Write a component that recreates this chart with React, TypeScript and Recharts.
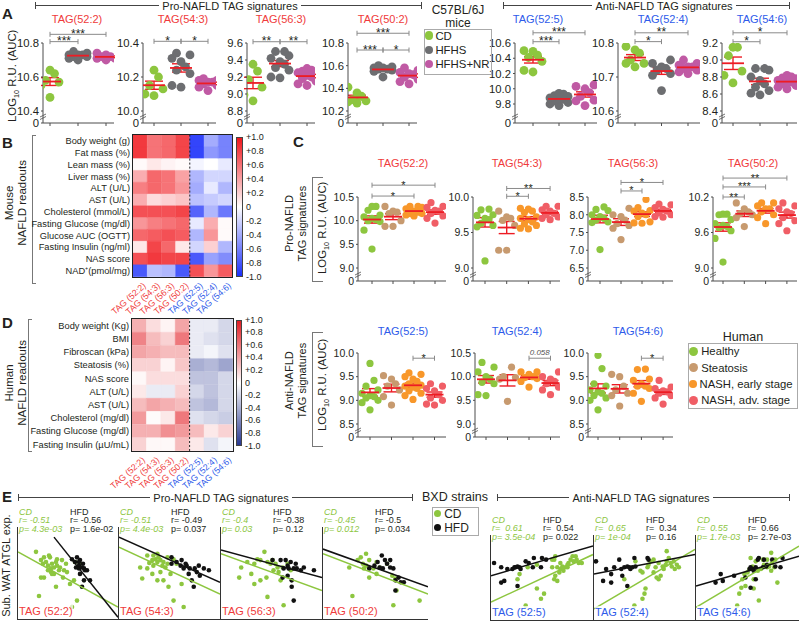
import React from "react";
import {
  ScatterChart,
  Scatter,
  XAxis,
  YAxis,
  ErrorBar,
  ReferenceLine,
  BarChart,
  Bar,
  Cell,
} from "recharts";

const FONT = "'Liberation Sans', Arial, Helvetica, sans-serif";
const INK = "#231f20";
const AXIS = "#4d4d4d";
const MEAN_RED = "#ed1c24";
const TAG_RED = "#ef3b3b";
const TAG_BLUE = "#2e5bea";
const GREEN = "#8dc63f";

// ---------- panel A: mouse liver TAGs ----------
const mouseGroups = ["CD", "HFHS", "HFHS+NR"];
const mouseColors = [GREEN, "#6d6e71", "#c05aa4"];
const proTags = ["TAG(52:2)", "TAG(54:3)", "TAG(56:3)", "TAG(50:2)"];
const antiTags = ["TAG(52:5)", "TAG(52:4)", "TAG(54:6)"];

const mTag522 = [
  [10.64, 10.62, 10.58, 10.57, 10.55, 10.48],
  [10.75, 10.74, 10.73, 10.73, 10.72, 10.72, 10.71, 10.7, 10.73],
  [10.74, 10.73, 10.72, 10.71, 10.7, 10.72, 10.71],
];
const mTag543 = [
  [10.24, 10.2, 10.15, 10.13, 10.1, 10.09],
  [10.34, 10.33, 10.31, 10.29, 10.26, 10.24, 10.22, 10.14, 10.15],
  [10.19, 10.18, 10.17, 10.16, 10.15, 10.14, 10.12, 10.18, 10.17],
];
const mTag563 = [
  [9.35, 9.27, 9.17, 9.08, 8.99, 8.92],
  [9.5, 9.5, 9.45, 9.42, 9.38, 9.35, 9.31, 9.28, 9.2, 9.19],
  [9.3, 9.28, 9.27, 9.25, 9.25, 9.22, 9.2, 9.18, 9.15, 9.12, 9.1],
];
const mTag502 = [
  [10.41, 10.36, 10.33, 10.3, 10.29, 10.28, 10.27],
  [10.6, 10.59, 10.58, 10.58, 10.57, 10.57, 10.56, 10.55, 10.5],
  [10.58, 10.56, 10.54, 10.53, 10.52, 10.5, 10.48, 10.46, 10.44],
];
const mTag525 = [
  [10.5, 10.49, 10.44, 10.41, 10.36, 10.24, 10.22],
  [9.94, 9.93, 9.91, 9.9, 9.88, 9.87, 9.86, 9.84, 9.82, 9.8, 9.78],
  [10.05, 10.03, 10.0, 9.95, 9.9, 9.85, 9.84, 9.78],
];
const mTag524 = [
  [10.79, 10.78, 10.77, 10.75, 10.74, 10.74, 10.73],
  [10.75, 10.74, 10.73, 10.725, 10.72, 10.71, 10.705, 10.66],
  [10.75, 10.74, 10.735, 10.73, 10.73, 10.725, 10.72, 10.715, 10.71],
];
const mTag546 = [
  [9.15, 9.15, 9.05, 8.87, 8.82, 8.73],
  [8.9, 8.9, 8.88, 8.8, 8.76, 8.72, 8.68, 8.64, 8.61, 8.59],
  [8.82, 8.8, 8.79, 8.78, 8.76, 8.75, 8.74, 8.72, 8.7, 8.68, 8.66],
];

const mTicks522 = [10.4, 10.6, 10.8];
const mTicks543 = [10.0, 10.2, 10.4];
const mTicks563 = [8.8, 9.0, 9.2, 9.4, 9.6];
const mTicks502 = [10.2, 10.4, 10.6, 10.8];
const mTicks525 = [9.8, 10.0, 10.2, 10.4, 10.6];
const mTicks524 = [10.6, 10.7, 10.8];
const mTicks546 = [8.4, 8.6, 8.8, 9.0, 9.2];

// [from group, to group, height, label]
const mSig522 = [[1, 2, 10.808, "***"], [1, 3, 10.851, "***"]];
const mSig543 = [[1, 2, 10.41, "*"], [2, 3, 10.41, "*"]];
const mSig563 = [[1, 2, 9.615, "**"], [2, 3, 9.615, "**"]];
const mSig502 = [[1, 2, 10.738, "***"], [2, 3, 10.738, "*"], [1, 3, 10.886, "***"]];
const mSig525 = [[1, 2, 10.617, "***"], [1, 3, 10.734, "***"]];
const mSig524 = [[1, 2, 10.804, "*"], [1, 3, 10.83, "**"]];
const mSig546 = [[1, 2, 9.215, "*"], [1, 3, 9.32, "*"]];

// ---------- panel C: human liver TAGs ----------
const humanGroups = ["Healthy", "Steatosis", "NASH, early stage", "NASH, adv. stage"];
const humanColors = [GREEN, "#c79a6f", "#f8972a", "#f05e66"];

const hTag522 = [
  [10.3, 10.3, 10.22, 10.12, 10.08, 10.05, 10.02, 10.0, 9.98, 9.8, 9.4],
  [10.3, 10.2, 10.18, 10.15, 10.0, 9.88, 9.88],
  [10.3, 10.3, 10.28, 10.25, 10.2, 10.18, 10.15, 10.15, 10.12, 10.1],
  [10.38, 10.3, 10.28, 10.22, 10.2, 10.15, 10.1, 10.05, 9.95],
];
const hTag543 = [
  [9.83, 9.82, 9.75, 9.74, 9.7, 9.68, 9.63, 9.6, 9.58, 9.1],
  [9.8, 9.72, 9.7, 9.67, 9.6, 9.25, 9.25],
  [9.84, 9.83, 9.8, 9.78, 9.72, 9.7, 9.68, 9.65, 9.62, 9.6, 9.56, 9.55],
  [9.87, 9.87, 9.82, 9.8, 9.77, 9.75, 9.72, 9.7, 9.68],
];
const hTag563 = [
  [8.22, 8.15, 8.12, 8.0, 7.95, 7.9, 7.85, 7.8, 7.78, 7.02],
  [8.18, 8.0, 7.95, 7.85, 7.75, 7.7, 7.62, 7.3],
  [8.43, 8.2, 8.12, 8.1, 8.05, 8.0, 7.95, 7.8, 7.77, 7.76],
  [8.3, 8.28, 8.2, 8.15, 8.1, 8.05, 8.0, 7.95, 7.93],
];
const hTag502 = [
  [9.91, 9.91, 9.9, 9.82, 9.75, 9.72, 9.7, 9.68, 9.63, 9.5, 9.1],
  [10.1, 10.0, 9.95, 9.92, 9.9, 9.85, 9.7],
  [10.1, 10.1, 10.05, 10.0, 10.0, 9.95, 9.9, 9.85, 9.75],
  [10.1, 10.05, 10.0, 9.95, 9.92, 9.85, 9.8, 9.75, 9.63],
];
const hTag525 = [
  [9.78, 9.42, 9.3, 9.22, 9.15, 9.1, 9.08, 9.05, 9.0, 8.95, 8.8],
  [9.52, 9.45, 9.35, 9.3, 9.22, 9.08, 8.9],
  [9.58, 9.55, 9.5, 9.45, 9.4, 9.35, 9.32, 9.3, 9.28, 9.25, 9.2, 9.15, 9.1, 9.02],
  [9.35, 9.3, 9.25, 9.2, 9.12, 9.05, 9.0, 8.92, 8.9],
];
const hTag524 = [
  [10.3, 10.2, 10.1, 10.0, 9.95, 9.88, 9.85, 9.62, 9.6],
  [10.2, 10.0, 9.98, 9.95, 9.48],
  [10.1, 10.1, 10.05, 10.0, 9.98, 9.96, 9.9, 9.78],
  [10.1, 10.0, 9.95, 9.9, 9.85, 9.78, 9.72, 9.62],
];
const hTag546 = [
  [9.95, 9.67, 9.35, 9.3, 9.22, 9.18, 9.15, 9.1, 9.05, 9.0, 8.8],
  [9.55, 9.5, 9.3, 9.22, 9.15, 9.1, 8.88],
  [9.66, 9.65, 9.45, 9.42, 9.35, 9.3, 9.3, 9.25, 9.15, 8.98],
  [9.42, 9.28, 9.25, 9.2, 9.18, 9.15, 9.1, 9.05, 8.92],
];

const hTicks522 = [9.0, 9.5, 10.0, 10.5];
const hTicks543 = [9.0, 9.5, 10.0];
const hTicks563 = [6.5, 7.0, 7.5, 8.0, 8.5];
const hTicks502 = [9.0, 9.6, 10.2];
const hTicks525 = [8.5, 9.0, 9.5, 10.0];
const hTicks524 = [9.0, 9.5, 10.0, 10.5];
const hTicks546 = [8.5, 9.0, 9.5, 10.0];

const hSig522 = [[1, 3, 10.52, "*"], [1, 4, 10.75, "*"]];
const hSig543 = [[2, 3, 10.01, "*"], [2, 4, 10.12, "**"]];
const hSig563 = [[2, 3, 8.67, "*"], [2, 4, 8.91, "*"]];
const hSig502 = [[1, 2, 10.2, "**"], [1, 3, 10.37, "***"], [1, 4, 10.52, "**"]];
const hSig525 = [[3, 4, 9.89, "*"]];
const hSig524 = [[3, 4, 10.39, "0.058"]];
const hSig546 = [[3, 4, 9.89, "*"]];

// ---------- heatmaps B / D ----------
const heatCols = ["TAG (52:2)", "TAG (54:3)", "TAG (56:3)", "TAG (50:2)", "TAG (52:5)", "TAG (52:4)", "TAG (54:6)"];
const mouseReadouts = [
  "Body weight (g)", "Fat mass (%)", "Lean mass (%)", "Liver mass (%)", "ALT (U/L)", "AST (U/L)",
  "Cholesterol (mmol/L)", "Fasting Glucose (mg/dl)", "Glucose AUC (OGTT)", "Fasting Insulin (ng/ml)",
  "NAS score", "NAD\u207A(pmol/mg)",
];
const mouseCorr = [
  [0.85, 0.6, 0.65, 0.8, -0.9, -0.4, -0.6],
  [0.85, 0.6, 0.65, 0.8, -0.9, -0.5, -0.6],
  [0.02, 0.1, 0.05, 0.02, -0.05, 0.0, -0.1],
  [0.35, 0.65, 0.6, 0.4, -0.35, -0.2, -0.2],
  [0.55, 0.65, 0.6, 0.45, -0.4, -0.1, -0.35],
  [0.35, 0.15, 0.2, 0.25, -0.3, -0.25, -0.2],
  [0.75, 0.75, 0.75, 0.8, -0.75, -0.35, -0.65],
  [0.45, 0.55, 0.6, 0.65, -0.1, 0.35, 0.02],
  [0.65, 0.7, 0.75, 0.7, -0.35, 0.45, 0.02],
  [0.1, 0.8, 0.65, 0.1, -0.2, 0.2, -0.35],
  [0.75, 0.85, 0.8, 0.8, -0.8, -0.45, -0.55],
  [-0.8, -0.3, -0.35, -0.8, 0.75, 0.45, 0.7],
];
const humanReadouts = [
  "Body weight (Kg)", "BMI", "Fibroscan (kPa)", "Steatosis (%)", "NAS score", "ALT (U/L)", "AST (U/L)",
  "Cholesterol (mg/dl)", "Fasting Glucose (mg/dl)", "Fasting Insulin (\u00B5U/mL)",
];
const humanCorr = [
  [0.35, 0.15, 0.05, 0.4, -0.1, -0.1, -0.2],
  [0.55, 0.3, 0.2, 0.6, -0.1, -0.15, -0.2],
  [0.4, 0.35, 0.3, 0.3, -0.1, -0.05, -0.15],
  [0.2, 0.2, 0.05, 0.25, -0.4, -0.35, -0.45],
  [0.03, 0.15, 0.15, 0.15, -0.3, -0.3, -0.2],
  [0.1, -0.1, -0.1, 0.2, -0.2, -0.3, -0.2],
  [0.3, 0.4, 0.35, 0.3, -0.3, -0.35, -0.2],
  [0.45, 0.02, 0.1, 0.6, -0.15, -0.2, -0.25],
  [0.35, 0.35, 0.5, 0.45, 0.3, 0.1, 0.2],
  [0.2, 0.03, 0.03, 0.3, 0.1, -0.15, -0.05],
];
const colorBarTicks = ["+1.0", "+0.8", "+0.6", "+0.4", "+0.2", "0", "-0.2", "-0.4", "-0.6", "-0.8", "-1.0"];

// ---------- panel E: BXD correlations (x, y in panel units 0-100) ----------
const eTags = ["TAG (52:2)", "TAG (54:3)", "TAG (56:3)", "TAG (50:2)", "TAG (52:5)", "TAG (52:4)", "TAG (54:6)"];
const eCdR = ["-0.51", "-0.51", "-0.4", "-0.45", " 0.61", " 0.65", " 0.55"];
const eCdP = ["4.3e-03", "4.4e-03", "0.03", "0.012", "3.5e-04", "1e-04", "1.7e-03"];
const eHfdR = ["-0.56", "-0.49", "-0.38", "-0.5", " 0.54", " 0.34", " 0.66"];
const eHfdP = ["1.6e-02", "0.037", "0.12", "0.034", "0.022", "0.16", "2.7e-03"];

const eCd522 = [[18,73],[23,64],[25,60],[28,62],[30,58],[32,67],[33,55],[34,60],[36,56],[38,62],[39,58],[41,53],[36,49],[33,51],[30,53],[26,45],[23,45],[44,64],[46,53],[48,60],[49,51],[26,67],[31,69],[42,56],[21,25],[38,35],[52,38],[56,42],[54,13],[59,20],[62,60],[57,62],[45,45],[39,65],[34,49]];
const eHfd522 = [[54,65],[57,62],[59,67],[61,58],[62,64],[61,55],[64,56],[66,55],[67,53],[65,60],[62,49],[66,42],[72,42],[64,35],[69,53],[61,62],[58,56]];
const eCdFit522 = [[0,73],[100,13]];
const eHfdFit522 = [[36,89],[100,2]];

const eCd543 = [[21,56],[23,44],[28,55],[30,61],[33,64],[34,58],[36,65],[38,62],[39,67],[41,64],[43,58],[44,62],[46,56],[48,60],[38,42],[41,51],[51,49],[49,35],[54,20],[44,42],[54,65],[57,60],[62,38],[33,49],[28,69],[48,67],[34,69],[64,13],[38,71]];
const eHfd543 = [[52,67],[57,62],[61,58],[62,64],[66,60],[67,58],[70,55],[69,49],[72,42],[74,35],[77,51],[79,58],[84,55],[89,53],[80,47],[75,55],[64,55],[52,60]];
const eCdFit543 = [[0,78],[100,27]];
const eHfdFit543 = [[0,89],[100,40]];

const eCd563 = [[18,45],[20,56],[26,62],[30,49],[33,60],[36,65],[43,73],[46,62],[49,60],[51,64],[54,60],[52,53],[57,51],[56,56],[61,56],[46,24],[45,45],[39,42],[62,15],[66,60],[69,53],[33,38],[59,42],[39,64]];
const eHfd563 = [[51,64],[59,64],[64,64],[66,58],[67,55],[69,62],[72,55],[74,60],[75,55],[62,55],[66,47],[70,42],[70,35],[72,20],[79,53],[92,53],[82,56],[61,45]];
const eCdFit563 = [[0,71],[100,31]];
const eHfdFit563 = [[0,75],[100,45]];

const eCd502 = [[25,56],[33,64],[36,67],[38,60],[41,58],[44,64],[48,55],[51,62],[39,55],[54,56],[61,60],[66,47],[69,44],[28,25],[44,45],[67,15],[70,31],[51,49],[41,71],[92,20]];
const eHfd502 = [[44,55],[49,58],[52,62],[54,56],[57,55],[61,60],[64,56],[67,55],[72,45],[74,40],[69,42],[59,64],[69,31],[56,69],[64,64],[77,40]];
const eCdFit502 = [[0,71],[100,27]];
const eHfdFit502 = [[0,76],[100,35]];

const eCd525 = [[34,17],[45,37],[52,31],[49,25],[28,54],[36,62],[45,65],[60,62],[62,71],[63,75],[65,62],[68,60],[70,63],[71,58],[73,62],[75,62],[76,67],[78,71],[80,75],[81,69],[83,75],[84,71],[86,67],[89,67],[62,48],[63,52],[65,46],[67,56],[75,65],[60,71],[68,67],[26,48]];
const eHfd525 = [[3,67],[10,62],[10,44],[13,46],[16,60],[21,60],[23,62],[24,62],[26,63],[28,62],[29,60],[34,69],[41,62],[42,73],[50,73],[54,71],[26,40],[37,67],[49,62]];
const eCdFit525 = [[0,21],[100,77]];
const eHfdFit525 = [[0,52],[100,87]];

const eCd524 = [[30,48],[40,17],[48,25],[50,31],[51,37],[59,56],[62,50],[64,48],[66,52],[61,62],[68,63],[69,60],[71,65],[72,69],[74,73],[76,67],[77,63],[79,69],[80,60],[82,65],[84,62],[72,81],[53,62],[56,69],[54,65],[41,69],[46,58],[48,56],[59,71],[64,67]];
const eHfd524 = [[2,69],[9,46],[12,60],[17,54],[20,62],[25,71],[27,60],[30,62],[33,63],[35,62],[36,60],[33,40],[40,73],[41,63],[53,73],[54,71],[17,44],[28,52],[38,62]];
const eCdFit524 = [[0,13],[100,83]];
const eHfdFit524 = [[0,54],[100,77]];

const eCd546 = [[40,17],[42,31],[44,38],[45,48],[47,54],[50,56],[52,60],[53,73],[55,63],[56,48],[60,58],[61,23],[63,60],[66,65],[69,71],[71,63],[73,79],[74,67],[76,62],[79,44],[56,37],[58,69],[65,71],[77,71],[69,62],[48,40],[73,58]];
const eHfd546 = [[19,44],[24,54],[26,46],[37,52],[48,50],[52,60],[53,62],[55,60],[56,58],[58,62],[60,71],[61,73],[65,62],[66,71],[68,63],[69,65],[74,71],[77,63],[82,62],[84,73],[58,48],[53,38]];
const eCdFit546 = [[0,15],[100,87]];
const eHfdFit546 = [[0,40],[100,75]];

// ---------- layout ----------
const layA = [
  { axisX: 43, off: 7, sp: 28, plotW: 71, titleX: 77, lowY: 111 },
  { axisX: 143, off: 11, sp: 27, plotW: 73, titleX: 183, lowY: 111 },
  { axisX: 247, off: 6, sp: 27, plotW: 68, titleX: 281, lowY: 111 },
  { axisX: 348, off: 9, sp: 26, plotW: 69, titleX: 383, lowY: 111 },
  { axisX: 515, off: 18, sp: 26, plotW: 82, titleX: 538, lowY: 104 },
  { axisX: 618, off: 17, sp: 26.5, plotW: 82, titleX: 663, lowY: 111 },
  { axisX: 722, off: 11, sp: 27, plotW: 75, titleX: 762, lowY: 111 },
];
const styleA = { topY: 43, bottomY: 123, titleY: 20, r: 4.4, fs: 11.3, spread: 9, capW: 9, meanHalf: 11, starFs: 12 };
const layC = [
  { axisX: 358, off: 14, sp: 21, plotW: 88, titleX: 403 },
  { axisX: 473, off: 12, sp: 21.7, plotW: 87, titleX: 517 },
  { axisX: 588, off: 12, sp: 21, plotW: 85, titleX: 633 },
  { axisX: 713, off: 10, sp: 21.3, plotW: 84, titleX: 753 },
];
const layCLow = [
  { axisX: 358, off: 12, sp: 21.5, plotW: 88, titleX: 403 },
  { axisX: 475, off: 11, sp: 21.5, plotW: 85, titleX: 517 },
  { axisX: 588, off: 10, sp: 21.7, plotW: 85, titleX: 638 },
];
const styleC = { topY: 197, lowY: 268, bottomY: 281, titleY: 164, r: 3.6, fs: 10.5, spread: 8, capW: 8, meanHalf: 9, starFs: 11 };
const styleCLow = { ...styleC, topY: 353, lowY: 424, bottomY: 437, titleY: 332 };

const swarmPattern = [0, -1, 1, -0.5, 0.5];

function mean(v: number[]) {
  return v.reduce((a, b) => a + b, 0) / v.length;
}
function sem(v: number[]) {
  const m = mean(v);
  const sd = Math.sqrt(v.reduce((a, b) => a + (b - m) * (b - m), 0) / (v.length - 1));
  return sd / Math.sqrt(v.length);
}

function Txt({ x, y, children, size = 11, color = INK, anchor = "left", bold = false, italic = false, w = 200, lh = 1.2 }: any) {
  const left = anchor === "center" ? x - w / 2 : anchor === "right" ? x - w : x;
  return (
    <div
      style={{
        position: "absolute",
        left,
        top: y - (size * lh) / 2,
        width: w,
        textAlign: anchor,
        fontSize: size,
        lineHeight: `${size * lh}px`,
        color,
        fontWeight: bold ? "bold" : "normal",
        fontStyle: italic ? "italic" : "normal",
        whiteSpace: "pre",
      }}
    >
      {children}
    </div>
  );
}

function VTxt({ x, y, children, size = 11, w = 160 }: any) {
  return (
    <div
      style={{
        position: "absolute",
        left: x - w / 2,
        top: y - size * 0.6,
        width: w,
        height: size * 1.2,
        lineHeight: `${size * 1.2}px`,
        textAlign: "center",
        fontSize: size,
        color: INK,
        transform: "rotate(-90deg)",
        whiteSpace: "nowrap",
      }}
    >
      {children}
    </div>
  );
}

function LogLabel({ x, y, size = 11.5 }: any) {
  return (
    <VTxt x={x} y={y} size={size} w={120}>
      LOG<sub style={{ fontSize: size * 0.65 }}>10</sub> R.U. (AUC)
    </VTxt>
  );
}

function Header({ x1, x2, y, tx, text, size = 11 }: any) {
  return (
    <>
      <div style={{ position: "absolute", left: x1, top: y, width: x2 - x1, borderTop: "1px solid #444" }} />
      <div style={{ position: "absolute", left: x1, top: y - 3, height: 7, borderLeft: "1px solid #444" }} />
      <div style={{ position: "absolute", left: x2 - 1, top: y - 3, height: 7, borderLeft: "1px solid #444" }} />
      <Txt x={tx} y={y + 1} anchor="center" size={size} w={200} lh={1}>
        <span style={{ background: "#fff", padding: "0 3px" }}>{text}</span>
      </Txt>
    </>
  );
}

function SideBracket({ x, y1, y2, stub = 8 }: any) {
  return (
    <div
      style={{
        position: "absolute",
        left: x,
        top: y1,
        width: stub,
        height: y2 - y1,
        borderLeft: "1px solid #777",
        borderTop: "1px solid #777",
        borderBottom: "1px solid #777",
        boxSizing: "border-box",
      }}
    />
  );
}

function Dot({ color, r, gap = 3 }: any) {
  return (
    <span
      style={{
        display: "inline-block",
        width: r * 2,
        height: r * 2,
        borderRadius: "50%",
        background: color,
        verticalAlign: "middle",
        marginRight: gap,
        marginTop: -2,
      }}
    />
  );
}

function YTick(props: any) {
  const { x, y, payload, zero, fs } = props;
  const isZero = Math.abs(payload.value - zero) < 1e-9;
  return (
    <g>
      <text x={x} y={y} dy="0.36em" textAnchor="end" fontSize={fs} fill={INK} fontFamily={FONT}>
        {isZero ? "0" : payload.value.toFixed(1)}
      </text>
      {isZero && (
        <g stroke={AXIS} strokeWidth={0.8}>
          <line x1={x + 1} y1={y - 6} x2={x + 7} y2={y - 9} />
          <line x1={x + 1} y1={y - 3.5} x2={x + 7} y2={y - 6.5} />
        </g>
      )}
    </g>
  );
}

const bracketShape = (label: string, fs: number) => (p: any) => {
  const isP = !label.includes("*");
  return (
    <g>
      <line x1={p.x1} y1={p.y1} x2={p.x2} y2={p.y2} stroke="#8a8a8a" strokeWidth={1} />
      <line x1={p.x1} y1={p.y1 - 2.5} x2={p.x1} y2={p.y1 + 2.5} stroke="#8a8a8a" />
      <line x1={p.x2} y1={p.y2 - 2.5} x2={p.x2} y2={p.y2 + 2.5} stroke="#8a8a8a" />
      <text
        x={(p.x1 + p.x2) / 2}
        y={isP ? p.y1 - 3 : p.y1 + 3.5}
        textAnchor="middle"
        fontSize={isP ? 8 : fs}
        fontStyle={isP ? "italic" : "normal"}
        fill={isP ? "#555" : INK}
        fontFamily={FONT}
      >
        {label}
      </text>
    </g>
  );
};

function DotPlot({ title, titleColor, groups, colors, ticks, sig, lay, st }: any) {
  const { axisX, off, sp, plotW, titleX } = lay;
  const lowY = lay.lowY ?? st.lowY;
  const { topY, bottomY, titleY, r, fs, spread, capW, meanHalf, starFs } = st;
  const top = ticks[ticks.length - 1];
  const low = ticks[0];
  const ppu = (lowY - topY) / (top - low);
  const zero = low - (bottomY - lowY) / ppu;
  const x0 = 1 - off / sp;
  const x1 = x0 + plotW / sp;
  const YW = 34;
  const MT = 30;
  const XH = 6;
  const W = YW + plotW + 2;
  const H = MT + (bottomY - topY) + XH;
  const cats = groups.map((_: any, i: number) => i + 1);
  const spreadU = spread / sp;

  const series = groups.map((vals: number[], gi: number) => {
    const order = vals.map((_, i) => i).sort((a, b) => vals[a] - vals[b]);
    return order.map((idx, k) => ({ x: gi + 1 + swarmPattern[k % 5] * spreadU, y: vals[idx] }));
  });
  const means = groups.map((vals: number[], gi: number) => ({ x: gi + 1, y: mean(vals), err: sem(vals) }));

  return (
    <>
      <Txt x={titleX} y={titleY} anchor="center" size={11} color={titleColor} w={100}>
        {title}
      </Txt>
      <div style={{ position: "absolute", left: axisX - YW, top: topY - MT }}>
        <ScatterChart width={W} height={H} margin={{ top: MT, right: 2, bottom: 0, left: 0 }}>
          <XAxis
            type="number"
            dataKey="x"
            domain={[x0, x1]}
            ticks={cats}
            interval={0}
            tickFormatter={() => ""}
            height={XH}
            tickSize={3}
            stroke={AXIS}
            allowDataOverflow
          />
          <YAxis
            type="number"
            dataKey="y"
            domain={[zero, top]}
            ticks={[zero, ...ticks]}
            interval={0}
            width={YW}
            tickSize={2}
            stroke={AXIS}
            allowDataOverflow
            tick={(p: any) => <YTick {...p} zero={zero} fs={fs} />}
          />
          {series.map((pts: any[], gi: number) => (
            <Scatter
              key={gi}
              data={pts}
              isAnimationActive={false}
              shape={(p: any) => <circle cx={p.cx} cy={p.cy} r={r} fill={colors[gi]} />}
            />
          ))}
          <Scatter
            data={means}
            isAnimationActive={false}
            shape={(p: any) => (
              <line x1={p.cx - meanHalf} x2={p.cx + meanHalf} y1={p.cy} y2={p.cy} stroke={MEAN_RED} strokeWidth={1.8} />
            )}
          >
            <ErrorBar dataKey="err" direction="y" width={capW} stroke={MEAN_RED} strokeWidth={1.4} isAnimationActive={false} />
          </Scatter>
          {sig.map((s: any[], i: number) => (
            <ReferenceLine
              key={i}
              segment={[{ x: s[0], y: s[2] }, { x: s[1], y: s[2] }]}
              ifOverflow="visible"
              shape={bracketShape(s[3], starFs)}
            />
          ))}
        </ScatterChart>
      </div>
    </>
  );
}

function mix(c: number[], t: number) {
  const a = Math.min(1, Math.abs(t));
  const ch = c.map((v) => Math.round(255 + (v - 255) * a));
  return `rgb(${ch[0]},${ch[1]},${ch[2]})`;
}

function Heatmap({ rows, vals, left, top, cellW, cellH, labelW, hot, cold, labelSize }: any) {
  const data = rows.map((name: string) => {
    const o: any = { name };
    heatCols.forEach((_, j) => (o["c" + j] = 1));
    return o;
  });
  const XH = 44;
  const W = labelW + heatCols.length * cellW;
  const H = rows.length * cellH + XH;
  const colTicks = heatCols.map((_, j) => j + 0.5);
  const color = (v: number) => (v >= 0 ? mix(hot, v) : mix(cold, v));
  return (
    <div style={{ position: "absolute", left: left - labelW, top }}>
      <BarChart
        layout="vertical"
        width={W}
        height={H}
        data={data}
        margin={{ top: 0, right: 0, bottom: 0, left: 0 }}
        barCategoryGap={0}
      >
        <XAxis
          type="number"
          domain={[0, heatCols.length]}
          ticks={colTicks}
          interval={0}
          axisLine={false}
          tickLine={false}
          tickSize={0}
          tickMargin={2}
          height={XH}
          tick={(p: any) => {
            const j = Math.round(p.payload.value - 0.5);
            return (
              <text
                x={p.x + 2}
                y={p.y + 3}
                transform={`rotate(-42 ${p.x + 2} ${p.y + 3})`}
                textAnchor="end"
                dy="0.75em"
                fontSize={8.8}
                fill={j < 4 ? TAG_RED : TAG_BLUE}
                fontFamily={FONT}
              >
                {heatCols[j]}
              </text>
            );
          }}
        />
        <YAxis
          type="category"
          dataKey="name"
          width={labelW}
          interval={0}
          axisLine={false}
          tickLine={false}
          tickSize={0}
          tickMargin={3}
          tick={(p: any) => (
            <text x={p.x} y={p.y} dy="0.35em" textAnchor="end" fontSize={labelSize} fill={INK} fontFamily={FONT}>
              {p.payload.value}
            </text>
          )}
        />
        {heatCols.map((_, j) => (
          <Bar key={j} dataKey={"c" + j} stackId="s" isAnimationActive={false}>
            {vals.map((row: number[], i: number) => (
              <Cell key={i} fill={color(row[j])} stroke={color(row[j])} strokeWidth={0.4} />
            ))}
          </Bar>
        ))}
        <ReferenceLine x={4} stroke="#222" strokeDasharray="2 2" />
      </BarChart>
      <div
        style={{
          position: "absolute",
          left: labelW - 1,
          top: -1,
          width: heatCols.length * cellW + 2,
          height: rows.length * cellH + 2,
          border: "1px solid #222",
          boxSizing: "border-box",
        }}
      />
    </div>
  );
}

function ColorBar({ x, y, w, h, hot, cold }: any) {
  const rgb = (c: number[]) => `rgb(${c[0]},${c[1]},${c[2]})`;
  return (
    <>
      <div
        style={{
          position: "absolute",
          left: x,
          top: y,
          width: w,
          height: h,
          border: "1px solid #444",
          boxSizing: "border-box",
          background: `linear-gradient(to bottom, ${rgb(hot)}, #fff, ${rgb(cold)})`,
        }}
      />
      {colorBarTicks.map((t, i) => (
        <Txt key={i} x={x + w + 3} y={y + (i * h) / 10} size={9} w={30}>
          {t}
        </Txt>
      ))}
    </>
  );
}

function CorrPanel({ x, y, w, h, cd, hfd, cdFit, hfdFit }: any) {
  const toPts = (a: number[][]) => a.map((p) => ({ x: p[0], y: p[1] }));
  return (
    <div
      style={{
        position: "absolute",
        left: x,
        top: y,
        width: w,
        height: h,
        borderLeft: "1px solid #333",
        borderBottom: "1px solid #333",
        boxSizing: "border-box",
      }}
    >
      <ScatterChart width={w - 1} height={h - 1} margin={{ top: 0, right: 0, bottom: 0, left: 0 }}>
        <XAxis type="number" dataKey="x" domain={[0, 100]} hide />
        <YAxis type="number" dataKey="y" domain={[0, 100]} hide />
        <Scatter data={toPts(cd)} isAnimationActive={false} shape={(p: any) => <circle cx={p.cx} cy={p.cy} r={2.3} fill={GREEN} />} />
        <Scatter data={toPts(hfd)} isAnimationActive={false} shape={(p: any) => <circle cx={p.cx} cy={p.cy} r={2.3} fill="#111" />} />
        <Scatter data={toPts(cdFit)} isAnimationActive={false} line={{ stroke: GREEN, strokeWidth: 1.5 }} shape={() => <g />} />
        <Scatter data={toPts(hfdFit)} isAnimationActive={false} line={{ stroke: "#111", strokeWidth: 1.5 }} shape={() => <g />} />
      </ScatterChart>
    </div>
  );
}

const mouseSets = [
  [mTag522, mTicks522, mSig522],
  [mTag543, mTicks543, mSig543],
  [mTag563, mTicks563, mSig563],
  [mTag502, mTicks502, mSig502],
  [mTag525, mTicks525, mSig525],
  [mTag524, mTicks524, mSig524],
  [mTag546, mTicks546, mSig546],
];
const humanSets = [
  [hTag522, hTicks522, hSig522],
  [hTag543, hTicks543, hSig543],
  [hTag563, hTicks563, hSig563],
  [hTag502, hTicks502, hSig502],
];
const humanSetsLow = [
  [hTag525, hTicks525, hSig525],
  [hTag524, hTicks524, hSig524],
  [hTag546, hTicks546, hSig546],
];
const corrSets = [
  [eCd522, eHfd522, eCdFit522, eHfdFit522],
  [eCd543, eHfd543, eCdFit543, eHfdFit543],
  [eCd563, eHfd563, eCdFit563, eHfdFit563],
  [eCd502, eHfd502, eCdFit502, eHfdFit502],
  [eCd525, eHfd525, eCdFit525, eHfdFit525],
  [eCd524, eHfd524, eCdFit524, eHfdFit524],
  [eCd546, eHfd546, eCdFit546, eHfdFit546],
];
const corrBoxes = [
  { x: 17, y: 527, w: 101, h: 93 },
  { x: 118, y: 527, w: 102, h: 93 },
  { x: 220, y: 527, w: 102, h: 93 },
  { x: 322, y: 527, w: 106, h: 93 },
  { x: 490, y: 535, w: 103, h: 86 },
  { x: 593, y: 535, w: 102, h: 86 },
  { x: 695, y: 535, w: 104, h: 86 },
];

const allTags = [...proTags, ...antiTags];
const B_HOT = [240, 22, 28];
const B_COLD = [28, 48, 250];
const D_HOT = [226, 30, 36];
const D_COLD = [40, 56, 145];

export default function App() {
  return (
    <div
      style={{
        position: "absolute",
        left: 0,
        top: 0,
        width: 800,
        height: 623,
        overflow: "hidden",
        background: "#fff",
        fontFamily: FONT,
        color: INK,
      }}
    >
      {/* panel letters */}
      <Txt x={2} y={14} size={15} bold>A</Txt>
      <Txt x={2} y={143} size={15} bold>B</Txt>
      <Txt x={293} y={142} size={15} bold>C</Txt>
      <Txt x={2} y={323} size={15} bold>D</Txt>
      <Txt x={2} y={497} size={15} bold>E</Txt>

      {/* ---- A ---- */}
      <Header x1={35} x2={422} y={5} tx={230} text="Pro-NAFLD TAG signatures" />
      <Header x1={503} x2={790} y={5} tx={664} text="Anti-NAFLD TAG signatures" />
      <LogLabel x={13} y={76} size={11.3} />
      {mouseSets.map((s: any, i) => (
        <DotPlot
          key={i}
          title={allTags[i]}
          titleColor={i < 4 ? TAG_RED : TAG_BLUE}
          groups={s[0]}
          colors={mouseColors}
          ticks={s[1]}
          sig={s[2]}
          lay={layA[i]}
          st={styleA}
        />
      ))}
      <Txt x={458} y={10} anchor="center" size={12} w={80} lh={1}>C57BL/6J</Txt>
      <Txt x={458} y={22.5} anchor="center" size={12} w={80} lh={1}>mice</Txt>
      <div style={{ position: "absolute", left: 424, top: 29, width: 68, height: 46, border: "1px solid #aaa", boxSizing: "border-box" }} />
      {mouseGroups.map((g, i) => (
        <Txt key={g} x={425} y={36.5 + i * 14.2} size={11.4} w={66}>
          <Dot color={mouseColors[i]} r={4.2} gap={2} />
          {g}
        </Txt>
      ))}

      {/* ---- B ---- */}
      <VTxt x={10} y={203} size={11.5} w={120}>Mouse</VTxt>
      <VTxt x={23} y={203} size={11.5} w={120}>NAFLD readouts</VTxt>
      <SideBracket x={32} y1={135} y2={284} stub={4} />
      <Heatmap rows={mouseReadouts} vals={mouseCorr} left={133} top={135} cellW={14.2} cellH={11.8} labelW={103} hot={B_HOT} cold={B_COLD} labelSize={9.3} />
      <ColorBar x={236} y={137} w={7} h={140} hot={B_HOT} cold={B_COLD} />

      {/* ---- D ---- */}
      <VTxt x={10} y={383} size={11.5} w={120}>Human</VTxt>
      <VTxt x={23} y={383} size={11.5} w={120}>NAFLD readouts</VTxt>
      <SideBracket x={28} y1={319} y2={452} stub={4} />
      <Heatmap rows={humanReadouts} vals={humanCorr} left={132} top={319} cellW={14.4} cellH={13.2} labelW={103} hot={D_HOT} cold={D_COLD} labelSize={9.3} />
      <ColorBar x={236} y={320} w={6} h={126} hot={D_HOT} cold={D_COLD} />

      {/* ---- C ---- */}
      <VTxt x={290} y={224} size={11} w={120}>Pro-NAFLD</VTxt>
      <VTxt x={303} y={224} size={11} w={120}>TAG signatures</VTxt>
      <SideBracket x={312} y1={177} y2={282} stub={11} />
      <LogLabel x={323} y={228} size={11.3} />
      {humanSets.map((s: any, i) => (
        <DotPlot key={i} title={proTags[i]} titleColor={TAG_RED} groups={s[0]} colors={humanColors} ticks={s[1]} sig={s[2]} lay={layC[i]} st={styleC} />
      ))}
      <VTxt x={290} y={381} size={11} w={120}>Anti-NAFLD</VTxt>
      <VTxt x={303} y={381} size={11} w={120}>TAG signatures</VTxt>
      <SideBracket x={312} y1={332} y2={447} stub={11} />
      <LogLabel x={323} y={385} size={11.3} />
      {humanSetsLow.map((s: any, i) => (
        <DotPlot key={i} title={antiTags[i]} titleColor={TAG_BLUE} groups={s[0]} colors={humanColors} ticks={s[1]} sig={s[2]} lay={layCLow[i]} st={styleCLow} />
      ))}
      <Txt x={743} y={337} anchor="center" size={12.5} w={100}>Human</Txt>
      <div style={{ position: "absolute", left: 688, top: 343, width: 110, height: 66, border: "1px solid #aaa", boxSizing: "border-box" }} />
      {humanGroups.map((g, i) => (
        <Txt key={g} x={689} y={352 + i * 16.4} size={11.3} w={108}>
          <Dot color={humanColors[i]} r={i === 2 ? 3.8 : 4.6} />
          {g}
        </Txt>
      ))}

      {/* ---- E ---- */}
      <Header x1={18} x2={413} y={497} tx={221} text="Pro-NAFLD TAG signatures" />
      <Txt x={455} y={497} anchor="center" size={12.5} w={80}>BXD strains</Txt>
      <Header x1={497} x2={790} y={497} tx={641} text="Anti-NAFLD TAG signatures" />
      <VTxt x={7} y={566} size={11} w={120}>Sub. WAT ATGL exp.</VTxt>
      {corrSets.map((s: any, i) => {
        const b = corrBoxes[i];
        return (
          <React.Fragment key={i}>
            <CorrPanel x={b.x} y={b.y} w={b.w} h={b.h} cd={s[0]} hfd={s[1]} cdFit={s[2]} hfdFit={s[3]} />
            <Txt x={b.x + 2} y={b.y - 15} size={9} color={GREEN} italic w={50} lh={0.93}>
              {`CD\nr= ${eCdR[i]}\np= ${eCdP[i]}`}
            </Txt>
            <Txt x={b.x + 53} y={b.y - 15} size={9} w={55} lh={0.93}>
              {`HFD\nr= ${eHfdR[i]}\np= ${eHfdP[i]}`}
            </Txt>
            <Txt x={b.x + 2} y={b.y + b.h - 8} size={11} color={i < 4 ? TAG_RED : TAG_BLUE} w={70}>
              <span style={{ background: "rgba(255,255,255,0.7)" }}>{eTags[i]}</span>
            </Txt>
          </React.Fragment>
        );
      })}
      <div style={{ position: "absolute", left: 432, top: 507, width: 47, height: 29, border: "1px solid #aaa", boxSizing: "border-box" }} />
      <Txt x={434} y={514} size={12} w={45}>
        <Dot color={GREEN} r={3.6} />CD
      </Txt>
      <Txt x={434} y={528} size={12} w={45}>
        <Dot color="#111" r={3.6} />HFD
      </Txt>
    </div>
  );
}
